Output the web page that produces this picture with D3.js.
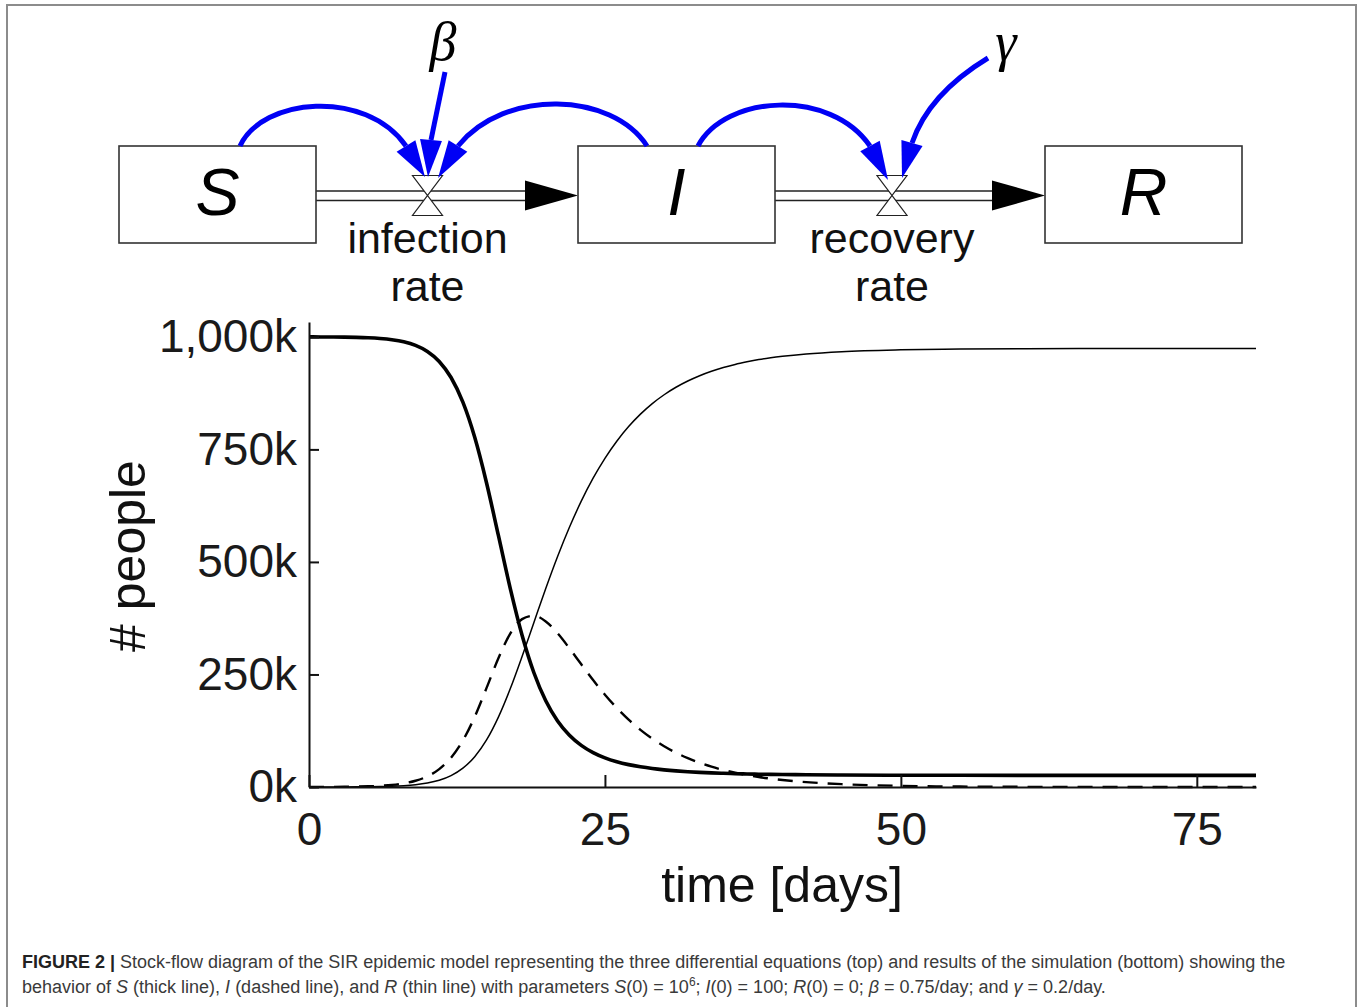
<!DOCTYPE html>
<html>
<head>
<meta charset="utf-8">
<title>SIR stock-flow</title>
<script src="https://d3js.org/d3.v7.min.js"></script>
<style>
  body { margin: 0; background: #fff; }
  svg { display: block; font-family: "Liberation Sans", Arial, sans-serif; }
</style>
</head>
<body>
<div id="chart"></div>
<script>
// simulation output, in thousands of people
const days = [0, 1, 2, 3, 4, 5, 6, 7, 8, 9, 10, 11, 12, 13, 14, 15, 16, 17, 18, 19, 20,
    21, 22, 23, 24, 25, 26, 27, 28, 29, 30, 31, 32, 33, 34, 35, 36, 37, 38, 39, 40,
    42, 45, 50, 55, 60, 65, 70, 75, 80]
const susceptible = [999.9, 999.8, 999.6, 999.3, 998.8, 997.9, 996.3, 993.6, 989.0, 981.0, 967.6,
    945.4, 909.7, 854.9, 776.8, 675.4, 558.8, 441.3, 337.2, 253.8, 191.5,
    146.7, 115.0, 92.5, 76.4, 64.7, 56.1, 49.7, 44.8, 41.0, 38.1,
    35.8, 34.0, 32.5, 31.3, 30.4, 29.6, 29.0, 28.4, 28.0, 27.7,
    27.2, 26.6, 26.2, 26.0, 25.9, 25.9, 25.9, 25.9, 25.9]
const infected = [0.1, 0.17, 0.3, 0.52, 0.9, 1.56, 2.71, 4.7, 8.1, 13.9, 23.6,
    39.7, 65.1, 103.3, 155.9, 220.1, 286.0, 340.6, 372.9, 380.6, 367.7,
    341.4, 308.1, 272.5, 237.6, 205.1, 175.7, 149.6, 126.9, 107.3, 90.5,
    76.2, 64.1, 53.8, 45.1, 37.8, 31.6, 26.5, 22.1, 18.5, 15.5,
    10.8, 6.3, 2.6, 1.0, 0.4, 0.2, 0.1, 0.0, 0.0]
const recovered = [0, 0.03, 0.07, 0.15, 0.29, 0.53, 0.95, 1.67, 2.9, 5.1, 8.8,
    14.9, 25.2, 41.8, 67.3, 104.5, 155.2, 218.1, 289.9, 365.6, 440.8,
    511.9, 576.9, 635.0, 686.0, 730.2, 768.2, 800.7, 828.3, 851.7, 871.4,
    888.0, 901.9, 913.7, 923.6, 931.8, 938.8, 944.5, 949.5, 953.5, 956.8,
    962.0, 967.1, 971.2, 973.0, 973.7, 973.9, 974.0, 974.1, 974.1]

const xTicks = [0, 25, 50, 75]
const yTicks = [0, 250, 500, 750, 1000]

const stocks = ["S", "I", "R"]
const flowLabels = [["infection", "rate"], ["recovery", "rate"]]
const params = ["β", "γ"]

const W = 1360, H = 1007
const svg = d3.select("#chart").append("svg")
    .attr("width", W)
    .attr("height", H)

// frame round the whole figure
svg.append("rect")
    .attr("x", 7).attr("y", 5)
    .attr("width", 1349).attr("height", H + 10)
    .attr("fill", "none")
    .attr("stroke", "#8c8c8c")
    .attr("stroke-width", 2)

// ---------- stock-flow diagram ----------
const boxLeft = [119, 578, 1045]
const boxW = 197, boxH = 97, boxTop = 146
const pipeY = [191, 200.5]
const valveX = [427.5, 892]
const valveY = 195.5
const blue = "#0000f5"

let diagram = svg.append("g")

// pipes with arrow into the next stock
flowLabels.forEach(function(lab, i) {
    let x0 = boxLeft[i] + boxW
    let x1 = boxLeft[i + 1]
    pipeY.forEach(function(py) {
        diagram.append("line")
            .attr("x1", x0).attr("x2", x1 - 50)
            .attr("y1", py).attr("y2", py)
            .attr("stroke", "#222")
            .attr("stroke-width", 1.6)
    })
    diagram.append("path")
        .attr("d", "M" + (x1 - 53) + "," + (valveY - 15) + "L" + x1 + "," + valveY +
                   "L" + (x1 - 53) + "," + (valveY + 15) + "Z")
        .attr("fill", "#000")

    // valve (hourglass)
    let vx = valveX[i]
    diagram.append("path")
        .attr("d", "M" + (vx - 15) + "," + (valveY - 20) + "L" + (vx + 15) + "," + (valveY - 20) +
                   "L" + (vx - 15) + "," + (valveY + 20) + "L" + (vx + 15) + "," + (valveY + 20) + "Z")
        .attr("fill", "#fff")
        .attr("stroke", "#222")
        .attr("stroke-width", 1.2)

    // two-line label
    lab.forEach(function(t, j) {
        diagram.append("text")
            .attr("x", vx)
            .attr("y", 253 + j * 48)
            .attr("text-anchor", "middle")
            .attr("font-size", 43)
            .attr("fill", "#111")
            .text(t)
    })
})

// stocks
stocks.forEach(function(s, i) {
    diagram.append("rect")
        .attr("x", boxLeft[i]).attr("y", boxTop)
        .attr("width", boxW).attr("height", boxH)
        .attr("fill", "#fff")
        .attr("stroke", "#333")
        .attr("stroke-width", 1.6)
    diagram.append("text")
        .attr("x", boxLeft[i] + boxW / 2)
        .attr("y", 215)
        .attr("text-anchor", "middle")
        .attr("font-size", 66)
        .attr("font-style", "italic")
        .attr("fill", "#000")
        .text(s)
})

// parameters
const paramPos = [[443, 60], [1006, 60]]
params.forEach(function(p, i) {
    diagram.append("text")
        .attr("x", paramPos[i][0]).attr("y", paramPos[i][1])
        .attr("text-anchor", "middle")
        .attr("font-family", "'Liberation Serif', 'Times New Roman', serif")
        .attr("font-style", "italic")
        .attr("font-size", 54)
        .attr("fill", "#000")
        .text(p)
})

// information links (blue arrows)
const links = [
    {d: "M240,146 C262,98 365,88 406,146", base: [406, 146], tip: [425, 177]},
    {d: "M445,72 L431,140", base: [431, 140], tip: [428, 177]},
    {d: "M647,146 C612,92 505,88 458,146", base: [458, 146], tip: [438, 178]},
    {d: "M698,146 C725,95 830,88 870,146", base: [870, 146], tip: [888, 180]},
    {d: "M988,58 C955,78 925,105 912,143", base: [912, 143], tip: [902, 178]}
]
links.forEach(function(l) {
    diagram.append("path")
        .attr("d", l.d)
        .attr("fill", "none")
        .attr("stroke", blue)
        .attr("stroke-width", 5)
    let dx = l.tip[0] - l.base[0], dy = l.tip[1] - l.base[1]
    let len = Math.sqrt(dx * dx + dy * dy)
    let px = -dy / len * 11, py = dx / len * 11
    diagram.append("path")
        .attr("d", "M" + l.tip[0] + "," + l.tip[1] +
                   "L" + (l.base[0] + px) + "," + (l.base[1] + py) +
                   "L" + (l.base[0] - px) + "," + (l.base[1] - py) + "Z")
        .attr("fill", blue)
})

// ---------- simulation chart ----------
let xScale = d3.scaleLinear().domain([0, 80]).range([309, 1256])
let yScale = d3.scaleLinear().domain([0, 1033]).range([787, 322])

let xAxis = d3.axisBottom(xScale)
    .tickValues(xTicks)
    .tickSizeInner(-12)
    .tickSizeOuter(0)
    .tickPadding(25)

let yAxis = d3.axisLeft(yScale)
    .tickValues(yTicks)
    .tickSizeInner(-10)
    .tickSizeOuter(0)
    .tickPadding(12)
    .tickFormat(function(d) { return d3.format(",")(d) + "k" })

function styleAxis(g) {
    g.select(".domain").attr("stroke", "#111").attr("stroke-width", 2)
    g.selectAll(".tick line").attr("stroke", "#111").attr("stroke-width", 2)
    g.selectAll(".tick text")
        .attr("font-family", "'Liberation Sans', Arial, sans-serif")
        .attr("font-size", 46)
        .attr("fill", "#1a1a1a")
}

const series = [
    {values: recovered, width: 1.5, dash: null},
    {values: infected, width: 2.4, dash: "15,10"},
    {values: susceptible, width: 3.6, dash: null}
]

let plot = svg.append("g")
series.forEach(function(s) {
    let line = d3.line()
        .x(function(d, i) { return xScale(days[i]) })
        .y(function(d) { return yScale(d) })
        .curve(d3.curveMonotoneX)
    plot.append("path")
        .datum(s.values)
        .attr("d", line)
        .attr("fill", "none")
        .attr("stroke", "#000")
        .attr("stroke-width", s.width)
        .attr("stroke-dasharray", s.dash)
})

svg.append("g")
    .attr("transform", "translate(0,787)")
    .call(xAxis)
    .call(styleAxis)

svg.append("g")
    .attr("transform", "translate(309,0)")
    .call(yAxis)
    .call(styleAxis)

svg.append("text")
    .attr("x", 782).attr("y", 902)
    .attr("text-anchor", "middle")
    .attr("font-size", 50)
    .attr("fill", "#111")
    .text("time [days]")

svg.append("text")
    .attr("transform", "translate(145,556) rotate(-90)")
    .attr("text-anchor", "middle")
    .attr("font-size", 50)
    .attr("fill", "#111")
    .text("# people")

// ---------- caption ----------
let cap1 = svg.append("text")
    .attr("x", 22).attr("y", 968)
    .attr("font-size", 18)
    .attr("fill", "#3a3a3a")
cap1.append("tspan").attr("font-weight", "bold").attr("fill", "#222").text("FIGURE 2 | ")
cap1.append("tspan").text("Stock-flow diagram of the SIR epidemic model representing the three differential equations (top) and results of the simulation (bottom) showing the")

const cap2 = [
    ["behavior of ", ""], ["S", "i"], [" (thick line), ", ""], ["I", "i"], [" (dashed line), and ", ""],
    ["R", "i"], [" (thin line) with parameters ", ""], ["S", "i"], ["(0) = 10", ""], ["6", "sup"],
    ["; ", ""], ["I", "i"], ["(0) = 100; ", ""], ["R", "i"], ["(0) = 0; ", ""], ["β", "i"],
    [" = 0.75/day; and ", ""], ["γ", "i"], [" = 0.2/day.", ""]
]
let capLine2 = svg.append("text")
    .attr("x", 22).attr("y", 993)
    .attr("font-size", 18)
    .attr("fill", "#3a3a3a")
cap2.forEach(function(p) {
    let t = capLine2.append("tspan").text(p[0])
    if (p[1] === "i") t.attr("font-style", "italic")
    if (p[1] === "sup") {
        t.attr("font-size", 12).attr("dy", -7)
    }
    if (p[0] === "; ") t.attr("dy", 7)
})
</script>
</body>
</html>
